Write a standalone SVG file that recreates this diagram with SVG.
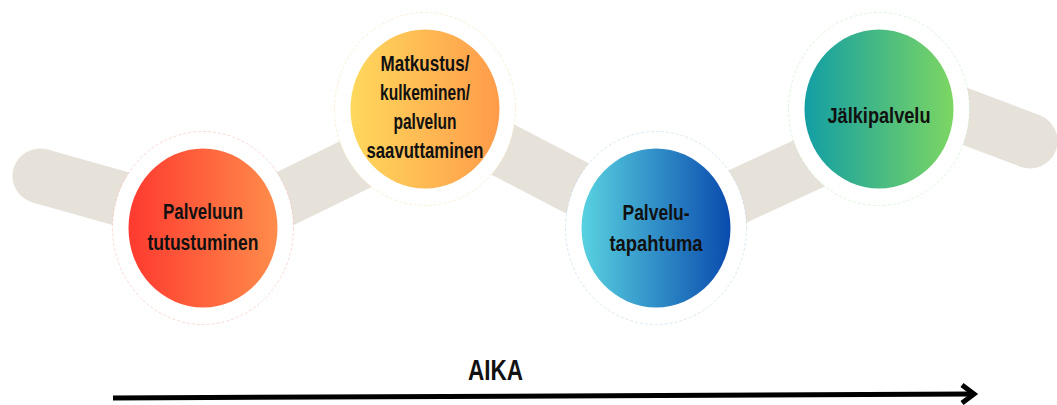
<svg xmlns="http://www.w3.org/2000/svg" width="1057" height="405" viewBox="0 0 1057 405">
<style>
.lbl{font-family:"Liberation Sans Narrow","Liberation Sans",Arial,sans-serif;font-weight:bold;font-size:22px;fill:#111;text-anchor:middle}
.ring{fill:#fff;stroke-width:0.8;stroke-dasharray:3 2;stroke-opacity:0.6}
.band{fill:none;stroke:#e6e1d9;stroke-width:55;stroke-linecap:round;stroke-linejoin:round}
</style>
<defs>
<linearGradient id="gRed" x1="0" y1="0" x2="1" y2="0"><stop offset="0" stop-color="#fe3a2f"/><stop offset="1" stop-color="#ff8c4b"/></linearGradient>
<linearGradient id="gYel" x1="0" y1="0" x2="1" y2="0"><stop offset="0" stop-color="#fed85c"/><stop offset="1" stop-color="#ff9b4a"/></linearGradient>
<linearGradient id="gBlu" x1="0" y1="0" x2="1" y2="0"><stop offset="0" stop-color="#58d2e0"/><stop offset="1" stop-color="#0a4bae"/></linearGradient>
<linearGradient id="gGrn" x1="0" y1="0" x2="1" y2="0"><stop offset="0" stop-color="#129ea4"/><stop offset="1" stop-color="#7cd662"/></linearGradient>
</defs>
<g id="connectors">
<polyline class="band" points="40,176 225,228 446,120 661,232 935,105 1030,141"/>
<line x1="113" y1="398" x2="970" y2="394" stroke="#000" stroke-width="5"/>
<polyline points="962,385 974,394 962,403" fill="none" stroke="#000" stroke-width="5" stroke-linejoin="miter"/>
</g>
<g id="node1">
<ellipse class="ring" cx="203" cy="228" rx="90.5" ry="96.5" stroke="#f7b2a8"/>
<ellipse cx="203" cy="228" rx="74.5" ry="79.5" fill="url(#gRed)"/>
<text class="lbl" x="203" y="218.5" textLength="80" lengthAdjust="spacingAndGlyphs">Palveluun</text>
<text class="lbl" x="203" y="249.5" textLength="111" lengthAdjust="spacingAndGlyphs">tutustuminen</text>
</g>
<g id="node2">
<ellipse class="ring" cx="425" cy="109" rx="90.5" ry="96.5" stroke="#f8dfa8"/>
<ellipse cx="425" cy="109" rx="74.5" ry="79.5" fill="url(#gYel)"/>
<text class="lbl" x="425" y="71" textLength="89" lengthAdjust="spacingAndGlyphs">Matkustus/</text>
<text class="lbl" x="425" y="100" textLength="90" lengthAdjust="spacingAndGlyphs">kulkeminen/</text>
<text class="lbl" x="425" y="129" textLength="63" lengthAdjust="spacingAndGlyphs">palvelun</text>
<text class="lbl" x="425" y="157.5" textLength="117" lengthAdjust="spacingAndGlyphs">saavuttaminen</text>
</g>
<g id="node3">
<ellipse class="ring" cx="656" cy="228" rx="90.5" ry="96.5" stroke="#b2cfe9"/>
<ellipse cx="656" cy="228" rx="74.5" ry="79.5" fill="url(#gBlu)"/>
<text class="lbl" x="656" y="220" textLength="67" lengthAdjust="spacingAndGlyphs">Palvelu-</text>
<text class="lbl" x="656" y="250.5" textLength="93" lengthAdjust="spacingAndGlyphs">tapahtuma</text>
</g>
<g id="node4">
<ellipse class="ring" cx="879" cy="109" rx="90.5" ry="96.5" stroke="#bce8bc"/>
<ellipse cx="879" cy="109" rx="74.5" ry="79.5" fill="url(#gGrn)"/>
<text class="lbl" x="879" y="123" textLength="103" lengthAdjust="spacingAndGlyphs">Jälkipalvelu</text>
</g>
<g id="axis-label">
<text class="lbl" x="495.5" y="380" style="font-size:30px" textLength="55" lengthAdjust="spacingAndGlyphs">AIKA</text>
</g>
</svg>
